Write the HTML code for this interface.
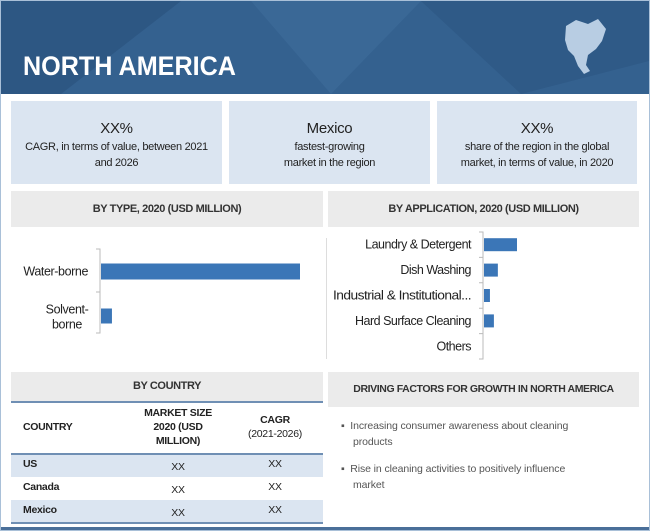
<!DOCTYPE html>
<html><head><meta charset="utf-8"><style>
body{margin:0;width:650px;height:531px;overflow:hidden;background:#fff;font-family:"Liberation Sans",sans-serif;}
.abs{position:absolute;}
#root{position:relative;width:648px;height:529px;border:1px solid #a9c0d8;}
.kpi{position:absolute;top:100px;height:83px;background:#dbe5f1;text-align:center;color:#222;font-size:11px;line-height:16px;letter-spacing:-0.3px;}
.kpi b{display:block;font-weight:normal;font-size:15px;margin-top:20px;margin-bottom:2px;}
.sec{position:absolute;background:#ebebeb;text-align:center;font-size:11px;font-weight:bold;color:#333;letter-spacing:-0.4px;white-space:nowrap;}
.cell{position:absolute;font-size:10.5px;color:#222;text-align:center;letter-spacing:-0.3px;}
</style></head><body>
<div id="root">
<svg class="abs" style="left:0;top:0" width="648" height="93">
<rect width="648" height="93" fill="#34618f"/>
<polygon points="0,0 180,0 60,93 0,93" fill="#2d5783"/>
<polygon points="250,0 420,0 330,93" fill="#3a6896"/>
<polygon points="420,0 648,0 648,60 520,93" fill="#2f5a87"/>
<path d="M565,25 l10,-6 l12,4 l10,-5 l8,10 l-4,12 l-6,8 l-8,6 l-2,10 l4,6 l-6,3 l-6,-8 l-4,-10 l-6,-6 l-3,-10z" fill="#b8cde3"/>
<text x="22" y="74" fill="#fff" font-size="27" font-weight="bold" textLength="213" lengthAdjust="spacingAndGlyphs" font-family="Liberation Sans, sans-serif">NORTH AMERICA</text>
</svg>
<div class="kpi" style="left:10px;width:211px"><b>XX%</b>CAGR, in terms of value, between 2021<br>and 2026</div>
<div class="kpi" style="left:228px;width:201px"><b>Mexico</b>fastest-growing<br>market in the region</div>
<div class="kpi" style="left:436px;width:200px"><b>XX%</b>share of the region in the global<br>market, in terms of value, in 2020</div>
<div class="sec" style="left:10px;top:190px;width:312px;height:36px;line-height:36px">BY TYPE, 2020 (USD MILLION)</div>
<div class="sec" style="left:327px;top:190px;width:311px;height:36px;line-height:36px">BY APPLICATION, 2020 (USD MILLION)</div>
<svg class="abs" style="left:0;top:226px" width="648" height="140" id="charts"></svg>
<div class="sec" style="left:10px;top:371px;width:312px;height:29px;line-height:29px;border-bottom:2px solid #6f8fb4">BY COUNTRY</div>
<div class="sec" style="left:327px;top:371px;width:311px;height:35px;line-height:35px;font-size:10.5px">DRIVING FACTORS FOR GROWTH IN NORTH AMERICA</div>
<div class="abs" style="left:10px;top:452px;width:312px;height:2px;background:#6f8fb4"></div>
<div class="abs" style="left:10px;top:454px;width:312px;height:22px;background:#dbe5f1"></div>
<div class="abs" style="left:10px;top:499px;width:312px;height:22px;background:#dbe5f1"></div>
<div class="abs" style="left:10px;top:521px;width:312px;height:2px;background:#6f8fb4"></div>
<div class="cell" style="left:22px;top:420px;font-weight:bold;text-align:left">COUNTRY</div>
<div class="cell" style="left:127px;top:405px;width:100px;font-weight:bold;line-height:14px">MARKET SIZE<br>2020 (USD<br>MILLION)</div>
<div class="cell" style="left:234px;top:412px;width:80px;line-height:14px"><b>CAGR</b><br>(2021-2026)</div>
<div class="cell" style="left:22px;top:457px;font-weight:bold">US</div>
<div class="cell" style="left:22px;top:480px;font-weight:bold">Canada</div>
<div class="cell" style="left:22px;top:503px;font-weight:bold">Mexico</div>
<div class="cell" style="left:157px;top:460px;width:40px">XX</div><div class="cell" style="left:254px;top:457px;width:40px">XX</div>
<div class="cell" style="left:157px;top:483px;width:40px">XX</div><div class="cell" style="left:254px;top:480px;width:40px">XX</div>
<div class="cell" style="left:157px;top:506px;width:40px">XX</div><div class="cell" style="left:254px;top:503px;width:40px">XX</div>
<div class="abs" style="left:340px;top:417px;width:295px;font-size:10.5px;line-height:16px;color:#555;letter-spacing:-0.1px">
<div>▪&nbsp; Increasing consumer awareness about cleaning<br><span style="padding-left:12px">products</span></div>
<div style="margin-top:11px">▪&nbsp; Rise in cleaning activities to positively influence<br><span style="padding-left:12px">market</span></div>
</div>
<div class="abs" style="left:0;top:526px;width:648px;height:3px;background:#4a6f99"></div>
</div>
<script>
const typeCats=["Water-borne","Solvent-borne"];
const typeVals=[100,5.5];
const appCats=["Laundry & Detergent","Dish Washing","Industrial & Institutional...","Hard Surface Cleaning","Others"];
const appVals=[100,42,18,30,0];
const svg=document.getElementById('charts');const NS="http://www.w3.org/2000/svg";
function mk(t,a){const e=document.createElementNS(NS,t);for(const k in a)e.setAttribute(k,a[k]);svg.appendChild(e);return e;}
const FS=12.5;
const tx0=99,tTop=24,tBand=41,tMax=199;
function tx(v){return tx0+1+v/100*tMax;}
mk('path',{d:`M${tx0-4},${tTop-2}H${tx0}V${tTop+tBand*2}H${tx0-4}M${tx0-4},${tTop+tBand}H${tx0}`,stroke:'#bbb',fill:'none'});
typeCats.forEach((c,i)=>{const cy=tTop+tBand*i+tBand/2+(i?4:0);
const r=mk('rect',{x:tx0+1,y:cy-8,width:tx(typeVals[i])-tx0-1,height:(i?15:16),fill:'#3b76b7'});


if(i===0){const t=mk('text',{x:87,y:cy+4,'text-anchor':'end','font-size':FS,fill:'#222','letter-spacing':-0.4});t.textContent=c;}
else{const t=mk('text',{x:66,y:cy-3,'text-anchor':'middle','font-size':FS,fill:'#222','letter-spacing':-0.4});t.textContent="Solvent-";
const t2=mk('text',{x:66,y:cy+12,'text-anchor':'middle','font-size':FS,fill:'#222','letter-spacing':-0.4});t2.textContent="borne";}
});
mk('line',{x1:325.5,y1:11,x2:325.5,y2:132,stroke:'#ddd'});
const ax0=482,aTop=5,aBand=25.4,aMax=33;
function ax(v){return ax0+1+v/100*aMax;}
let d=`M${ax0-4},${aTop}H${ax0}V${aTop+aBand*5}H${ax0-4}`;for(let i=1;i<5;i++)d+=`M${ax0-4},${aTop+aBand*i}H${ax0}`;
mk('path',{d:d,stroke:'#bbb',fill:'none'});
appCats.forEach((c,i)=>{const cy=aTop+aBand*i+aBand/2;
const r=mk('rect',{x:ax0+1,y:cy-6.5,width:ax(appVals[i])-ax0-1,height:13,fill:'#3b76b7'});


const t=mk('text',{x:470,y:cy+4,'text-anchor':'end','font-size':FS,fill:'#222','letter-spacing':-0.5});t.textContent=c;
if(c.length>24){t.setAttribute('textLength',138);t.setAttribute('lengthAdjust','spacingAndGlyphs');}
});
</script>
</body></html>
